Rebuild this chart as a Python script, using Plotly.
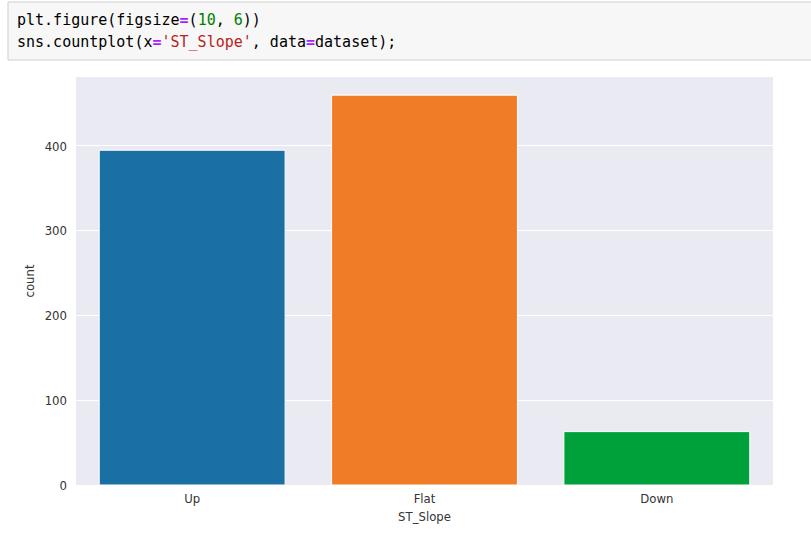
import plotly.graph_objects as go

categories = ["Up", "Flat", "Down"]
counts = [395, 460, 63]
bar_colors = ["#1a6fa3", "#f07c28", "#00a03a"]
y_ticks = [0, 100, 200, 300, 400]

W, H = 811, 543
L, R, T, B = 76, 773, 77, 485

def px(x):
    return (x - L) / (R - L)

def py(y):
    return (B - y) / (B - T)

fig = go.Figure()
fig.add_trace(go.Bar(
    x=categories, y=counts,
    marker=dict(color=bar_colors, line=dict(color="white", width=1)),
    width=0.8,
))

font_fam = "DejaVu Sans Condensed, Liberation Sans Narrow, DejaVu Sans, sans-serif"
mono = "DejaVu Sans Mono, Liberation Mono, monospace"

code1 = ("plt.figure(figsize<span style='color:#aa22ff'><b>=</b></span>("
         "<span style='color:#008000'>10</span>, <span style='color:#008000'>6</span>))")
code2 = ("sns.countplot(x<span style='color:#aa22ff'><b>=</b></span>"
         "<span style='color:#ba2121'>'ST_Slope'</span>, data"
         "<span style='color:#aa22ff'><b>=</b></span>dataset);")

fig.update_layout(
    width=W, height=H,
    margin=dict(l=L, r=W - R, t=T, b=H - B),
    paper_bgcolor="white",
    plot_bgcolor="#eaeaf2",
    showlegend=False,
    font=dict(family=font_fam, size=13, color="#333333"),
    xaxis=dict(
        range=[-0.5, 2.5], showgrid=False, zeroline=False, ticks="",
        ticklabelstandoff=4,
        title=dict(text="ST_Slope", font=dict(size=13, color="#333333"), standoff=6),
        tickfont=dict(size=13, color="#333333"),
    ),
    yaxis=dict(
        range=[0, 481.4], tickvals=y_ticks, showgrid=True, gridcolor="white",
        gridwidth=1, zeroline=False, ticks="", ticklabelstandoff=8,
        title=dict(text="count", font=dict(size=13, color="#333333"), standoff=7),
        tickfont=dict(size=13, color="#333333"),
    ),
    shapes=[dict(
        type="rect", xref="paper", yref="paper",
        x0=px(8), x1=px(815), y0=py(60), y1=py(2),
        fillcolor="#f7f7f7", line=dict(color="#cfcfcf", width=1), layer="below",
    )],
    annotations=[
        dict(text=code1, xref="paper", yref="paper", x=px(15), y=py(20),
             xanchor="left", yanchor="middle", showarrow=False,
             font=dict(family=mono, size=15, color="#000000")),
        dict(text=code2, xref="paper", yref="paper", x=px(15), y=py(42),
             xanchor="left", yanchor="middle", showarrow=False,
             font=dict(family=mono, size=15, color="#000000")),
    ],
)

fig.write_html("out.html")
